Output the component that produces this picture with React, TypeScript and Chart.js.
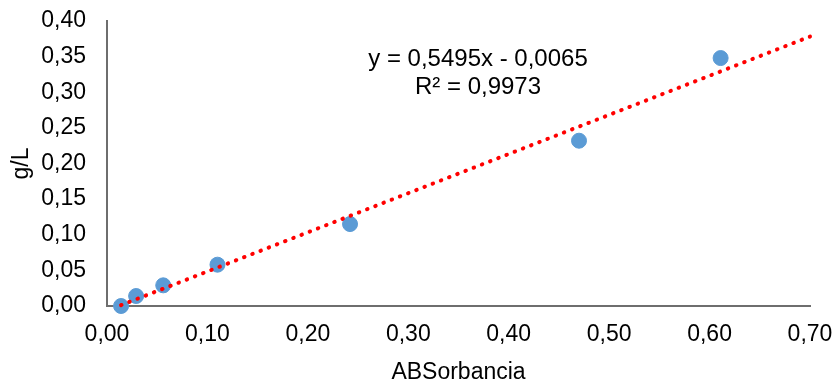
import React, { useEffect, useRef } from 'react';
import { Chart, registerables } from 'chart.js';
Chart.register(...registerables);

const absorbancia = [0.014, 0.029, 0.056, 0.110, 0.242, 0.470, 0.611];
const concentracion = [0.000, 0.014, 0.029, 0.058, 0.115, 0.232, 0.348];
const slope = 0.5495;
const intercept = -0.0065;
const trendRange = [0.014, 0.70];
const equationLines = ['y = 0,5495x - 0,0065', 'R² = 0,9973'];
const xTitle = 'ABSorbancia';
const yTitle = 'g/L';

const FONT = "'Liberation Sans', Arial, sans-serif";
const fmt = (v: number) => v.toFixed(2).replace('.', ',');

const equationPlugin = {
  id: 'equation',
  afterDatasetsDraw(chart: any) {
    const { ctx } = chart;
    ctx.save();
    ctx.font = `24px ${FONT}`;
    ctx.fillStyle = '#000';
    ctx.textAlign = 'center';
    ctx.textBaseline = 'middle';
    ctx.fillText(equationLines[0], 478, 59);
    ctx.fillText(equationLines[1], 478, 87);
    ctx.restore();
  },
};

export default function App() {
  const ref = useRef<HTMLCanvasElement>(null);
  useEffect(() => {
    if (!ref.current) return;
    const points = absorbancia.map((x, i) => ({ x, y: concentracion[i] }));
    const trend = trendRange.map((x) => ({ x, y: slope * x + intercept }));
    const chart = new Chart(ref.current, {
      type: 'scatter',
      data: {
        datasets: [
          {
            type: 'line',
            data: trend,
            borderColor: '#FF0000',
            borderWidth: 4,
            borderDash: [0.5, 8.3],
            borderCapStyle: 'round',
            pointRadius: 0,
            fill: false,
            clip: false,
          } as any,
          {
            data: points,
            backgroundColor: '#5B9BD5',
            borderColor: '#5B9BD5',
            pointRadius: 7.5,
            pointHoverRadius: 7.5,
            clip: false,
          } as any,
        ],
      },
      options: {
        animation: false,
        responsive: false,
        events: [],
        layout: { padding: { top: 21, right: 27, left: 0, bottom: 0 } },
        plugins: { legend: { display: false }, tooltip: { enabled: false } },
        scales: {
          x: {
            type: 'linear',
            min: 0,
            max: 0.7,
            ticks: {
              stepSize: 0.1,
              callback: (v: any) => fmt(Number(v)),
              font: { family: FONT, size: 23 },
              color: '#000',
              padding: 0,
              maxRotation: 0,
            },
            grid: { display: true, drawOnChartArea: false, drawTicks: true, tickLength: 15, color: 'rgba(0,0,0,0)' },
            border: { display: true, color: '#6e6e6e', width: 2 },
            title: {
              display: true,
              text: xTitle,
              font: { family: FONT, size: 23 },
              color: '#000',
              padding: { top: 4, bottom: -7 },
            },
            afterFit: (s: any) => { s.height = 73; },
          },
          y: {
            type: 'linear',
            min: 0,
            max: 0.4,
            ticks: {
              stepSize: 0.05,
              callback: (v: any) => fmt(Number(v)),
              font: { family: FONT, size: 23 },
              color: '#000',
              padding: 0,
            },
            grid: { display: true, drawOnChartArea: false, drawTicks: true, tickLength: 21, color: 'rgba(0,0,0,0)' },
            border: { display: true, color: '#6e6e6e', width: 2 },
            title: {
              display: true,
              text: yTitle,
              font: { family: FONT, size: 23 },
              color: '#000',
              padding: { top: 8, bottom: 0 },
            },
            afterFit: (s: any) => { s.width = 107; },
          },
        },
      },
      plugins: [equationPlugin],
    } as any);
    return () => chart.destroy();
  }, []);
  return (
    <div style={{ position: 'absolute', left: 0, top: 0, width: 837, height: 379, background: '#fff' }}>
      <canvas ref={ref} width={837} height={379} style={{ display: 'block' }} />
    </div>
  );
}
